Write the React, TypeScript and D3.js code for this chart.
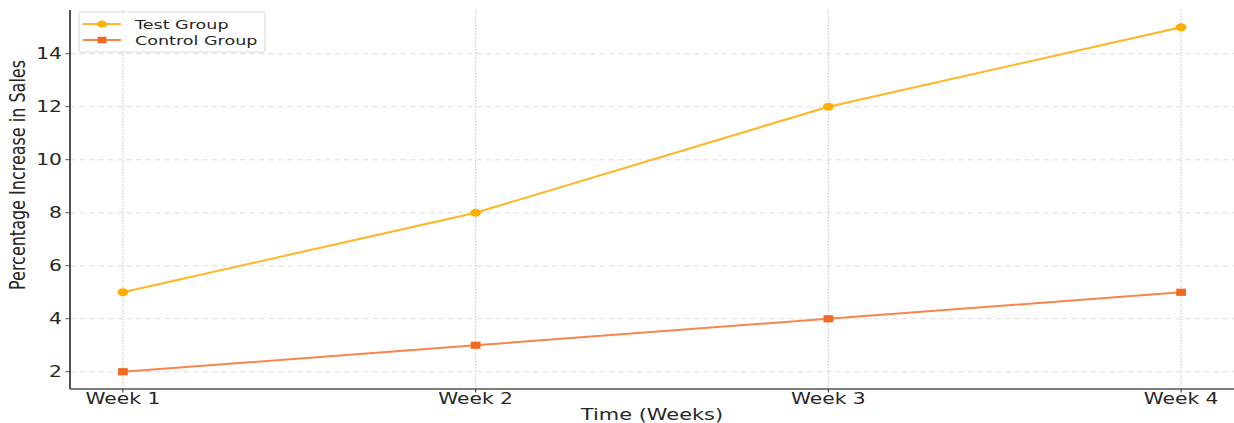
import React from "react";
import * as d3 from "d3";

const categories = ["Week 1", "Week 2", "Week 3", "Week 4"];
const testGroup = [5, 8, 12, 15];
const controlGroup = [2, 3, 4, 5];
const yTicks = [2, 4, 6, 8, 10, 12, 14];

const W = 1234;
const H = 423;
const SX = 1.35; // horizontal stretch of the whole picture
const VW = W / SX;

const TEST_LINE = "#FFB627";
const TEST_MARK = "#FFAE00";
const CTRL_LINE = "#F7854E";
const CTRL_MARK = "#F26A21";
const FONT = "DejaVu Sans, sans-serif";

export default function App() {
  const left = 70 / SX;
  const right = VW;
  const top = 10;
  const bottom = 389;
  const x = d3.scaleLinear().domain([-0.15, 3.15]).range([left, right]);
  const y = d3.scaleLinear().domain([1.35, 15.65]).range([bottom, top]);
  const line = d3
    .line<number>()
    .x((_, i) => x(i))
    .y((d) => y(d));

  return (
    <svg
      width={W}
      height={H}
      style={{ position: "absolute", left: 0, top: 0, background: "#fff" }}
    >
      <rect x={0} y={0} width={W} height={H} fill="#fff" />
      <g transform={`scale(${SX},1)`}>
        {/* horizontal grid */}
        {yTicks.map((t) => (
          <line
            key={"hg" + t}
            x1={left}
            x2={right}
            y1={y(t)}
            y2={y(t)}
            stroke="#dedede"
            strokeWidth={1}
            strokeDasharray="4,3"
          />
        ))}
        {/* vertical grid */}
        {categories.map((c, i) => (
          <line
            key={"vg" + c}
            x1={x(i)}
            x2={x(i)}
            y1={top}
            y2={bottom}
            stroke="#c8c8c8"
            strokeWidth={0.8}
            strokeDasharray="1.5,1.5"
          />
        ))}
        {/* lines */}
        <path d={line(testGroup) || ""} fill="none" stroke={TEST_LINE} strokeWidth={2} />
        <path d={line(controlGroup) || ""} fill="none" stroke={CTRL_LINE} strokeWidth={2} />
        {testGroup.map((v, i) => (
          <circle key={"tm" + i} cx={x(i)} cy={y(v)} r={4} fill={TEST_MARK} />
        ))}
        {controlGroup.map((v, i) => (
          <rect
            key={"cm" + i}
            x={x(i) - 3.6}
            y={y(v) - 3.6}
            width={7.2}
            height={7.2}
            fill={CTRL_MARK}
          />
        ))}
        {/* spines */}
        <line x1={left} x2={left} y1={top} y2={bottom} stroke="#2a2a2a" strokeWidth={1.2} />
        <line x1={left} x2={right} y1={bottom} y2={bottom} stroke="#555" strokeWidth={1.6} />
        {/* y ticks */}
        {yTicks.map((t) => (
          <g key={"yt" + t}>
            <line x1={left - 3.5} x2={left} y1={y(t)} y2={y(t)} stroke="#333" strokeWidth={0.8} />
            <text
              x={left - 6}
              y={y(t)}
              dy="0.36em"
              textAnchor="end"
              fontFamily={FONT}
              fontSize={15}
              fill="#262626"
            >
              {t}
            </text>
          </g>
        ))}
        {/* x ticks */}
        {categories.map((c, i) => (
          <g key={"xt" + c}>
            <line x1={x(i)} x2={x(i)} y1={bottom} y2={bottom + 3.5} stroke="#333" strokeWidth={0.8} />
            <text
              x={x(i)}
              y={bottom + 15}
              textAnchor="middle"
              fontFamily={FONT}
              fontSize={15}
              fill="#262626"
            >
              {c}
            </text>
          </g>
        ))}
        {/* axis labels */}
        <text
          x={(left + right) / 2}
          y={bottom + 31}
          textAnchor="middle"
          fontFamily={FONT}
          fontSize={15.5}
          fill="#262626"
        >
          Time (Weeks)
        </text>
        <text
          transform={`translate(${17 / SX},${175}) rotate(-90)`}
          dy="0.35em"
          textAnchor="middle"
          fontFamily={FONT}
          fontSize={16}
          fill="#262626"
        >
          Percentage Increase in Sales
        </text>
        {/* legend */}
        <g>
          <rect
            x={79 / SX}
            y={12}
            width={(265 - 79) / SX}
            height={40}
            rx={2}
            fill="#fff"
            fillOpacity={0.85}
            stroke="#dcdcdc"
            strokeWidth={0.8}
          />
          {[
            { label: "Test Group", line: TEST_LINE, mark: TEST_MARK, sq: false },
            { label: "Control Group", line: CTRL_LINE, mark: CTRL_MARK, sq: true },
          ].map((e, i) => {
            const ly = 24 + i * 16;
            const x1 = 83 / SX;
            const x2 = 121 / SX;
            const mx = (x1 + x2) / 2;
            return (
              <g key={e.label}>
                <line x1={x1} x2={x2} y1={ly} y2={ly} stroke={e.line} strokeWidth={2} />
                {e.sq ? (
                  <rect x={mx - 3.3} y={ly - 3.3} width={6.6} height={6.6} fill={e.mark} />
                ) : (
                  <circle cx={mx} cy={ly} r={3.6} fill={e.mark} />
                )}
                <text
                  x={135 / SX}
                  y={ly}
                  dy="0.36em"
                  fontFamily={FONT}
                  fontSize={13}
                  fill="#262626"
                >
                  {e.label}
                </text>
              </g>
            );
          })}
        </g>
      </g>
    </svg>
  );
}
